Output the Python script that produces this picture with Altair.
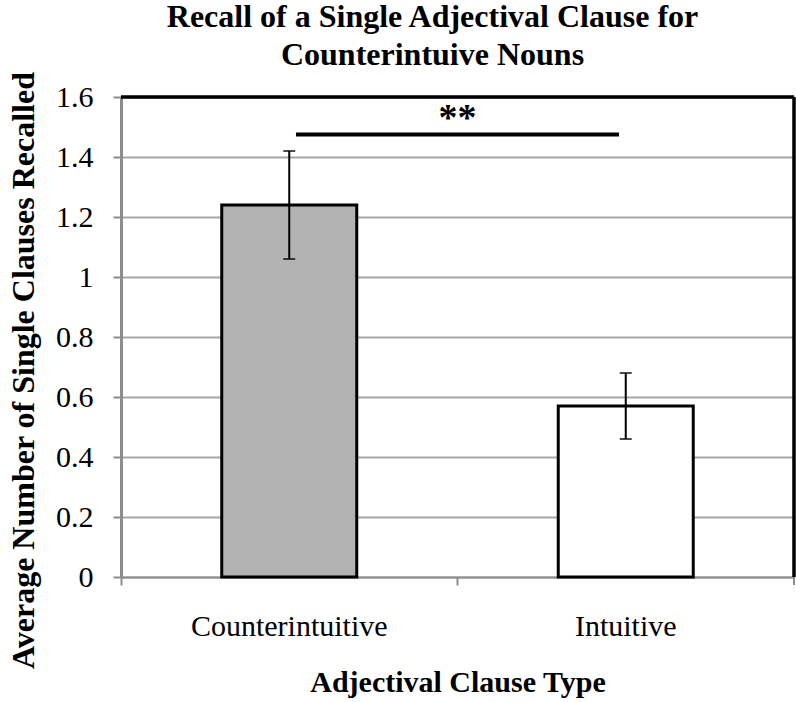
import altair as alt
import pandas as pd

categories = ["Counterintuitive", "Intuitive"]
means = [1.24, 0.57]
err_low = [1.06, 0.46]
err_high = [1.42, 0.68]
fills = ["#b3b3b3", "#ffffff"]

sig_start = [0.52]
sig_end = [1.48]
sig_level = [1.475]
sig_label = ["**"]
sig_text_level = [1.49]

W, H = 673, 480
FONT = "Liberation Serif"

df = pd.DataFrame({"type": categories, "mean": means, "lo": err_low, "hi": err_high, "fill": fills})
sig = pd.DataFrame({"x1": sig_start, "x2": sig_end, "y": sig_level, "label": sig_label,
                    "ty": sig_text_level, "xm": [(a + b) / 2 for a, b in zip(sig_start, sig_end)]})

x_enc = alt.X("type:N", sort=categories,
              scale=alt.Scale(paddingInner=0, paddingOuter=0),
              axis=alt.Axis(title="Adjectival Clause Type", labelAngle=0, bandPosition=0,
                            labelFontSize=30, labelFont=FONT, labelColor="black", labelLimit=400,
                            labelPadding=26, tickSize=8, tickColor="#8c8c8c", tickWidth=2,
                            domainColor="#8c8c8c", domainWidth=2, grid=False,
                            titleFont=FONT, titleFontSize=30, titleFontWeight="bold",
                            titleColor="black", titlePadding=26))
y_scale = alt.Scale(domain=[0, 1.6])
y_enc = alt.Y("mean:Q", scale=y_scale,
              axis=alt.Axis(title="Average Number of Single Clauses Recalled",
                            values=[0, 0.2, 0.4, 0.6, 0.8, 1.0, 1.2, 1.4, 1.6],
                            labelExpr="datum.value == 1 ? '1' : datum.value == 0 ? '0' : format(datum.value, '.1f')",
                            labelFontSize=30, labelFont=FONT, labelColor="black", labelPadding=20,
                            tickSize=8, tickColor="#8c8c8c", tickWidth=2,
                            domainColor="#8c8c8c", domainWidth=3,
                            grid=True, gridColor="#a6a6a6", gridWidth=2,
                            titleFont=FONT, titleFontSize=32, titleFontWeight="bold",
                            titleColor="black", titleAngle=270, titleAlign="center",
                            titleBaseline="alphabetic", titleX=-88, titleY=273))

bars = alt.Chart(df).mark_bar(size=135, stroke="black", strokeWidth=3).encode(
    x=x_enc, y=y_enc, fill=alt.Fill("fill:N", scale=None))

err = alt.Chart(df).mark_rule(color="black", strokeWidth=2).encode(
    x=alt.X("type:N", sort=categories), y=alt.Y("lo:Q", scale=y_scale), y2="hi:Q")
cap_lo = alt.Chart(df).mark_tick(color="black", thickness=2, size=12, orient="horizontal").encode(
    x=alt.X("type:N", sort=categories), y=alt.Y("lo:Q", scale=y_scale))
cap_hi = alt.Chart(df).mark_tick(color="black", thickness=2, size=12, orient="horizontal").encode(
    x=alt.X("type:N", sort=categories), y=alt.Y("hi:Q", scale=y_scale))

top_border = alt.Chart(df).mark_rule(color="black", strokeWidth=3).encode(
    y=alt.datum(1.6, scale=y_scale), x=alt.value(0), x2=alt.value(W))
right_border = alt.Chart(df).mark_rule(color="black", strokeWidth=3).encode(
    x=alt.value(W), y=alt.value(0), y2=alt.value(H))
end_tick = alt.Chart(df).mark_rule(color="#8c8c8c", strokeWidth=2).encode(
    x=alt.value(W), y=alt.value(H), y2=alt.value(H + 8))

base = alt.layer(bars, err, cap_lo, cap_hi, top_border, end_tick, right_border)

xq = alt.Scale(domain=[0, 2])
sig_line = alt.Chart(sig).mark_rule(color="black", strokeWidth=4).encode(
    x=alt.X("x1:Q", scale=xq, axis=None), x2="x2:Q", y=alt.Y("y:Q", scale=y_scale))
sig_text = alt.Chart(sig).mark_text(font=FONT, fontSize=38, fontWeight="bold", baseline="alphabetic").encode(
    x=alt.X("xm:Q", scale=xq, axis=None), y=alt.Y("ty:Q", scale=y_scale), text="label:N")
ann = alt.layer(sig_line, sig_text)

chart = alt.layer(base, ann).resolve_scale(x="independent").properties(
    width=W, height=H,
    title=alt.TitleParams(text=["Recall of a Single Adjectival Clause for", "Counterintuive Nouns"],
                          font=FONT, fontSize=32, fontWeight="bold", color="black",
                          anchor="middle", offset=-1, lineHeight=38, dx=-25),
    autosize=alt.AutoSizeParams(type="none"),
    padding={"left": 121, "top": 97, "right": 2, "bottom": 125},
).configure_view(stroke=None).configure(background="white")

chart.save("out.html", embed_options={"renderer": "svg", "actions": False})
